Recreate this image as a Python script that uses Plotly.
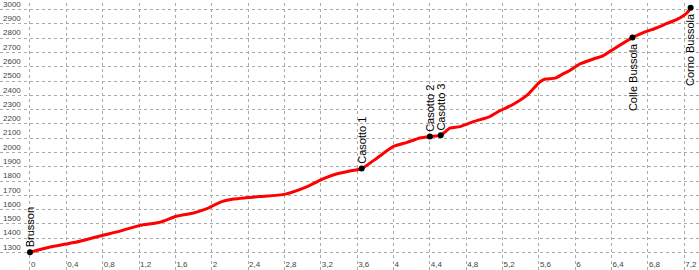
import plotly.graph_objects as go

# Elevation profile (distance in km, elevation in m)
dist_km = [0.00, 0.22, 0.40, 0.55, 0.77, 0.99, 1.21, 1.43, 1.61, 1.80, 1.94, 2.09, 2.24, 2.37,
           2.53, 2.81, 3.05, 3.23, 3.38, 3.52, 3.65, 3.82, 4.00, 4.15, 4.29, 4.40, 4.52, 4.62,
           4.73, 4.88, 5.06, 5.17, 5.31, 5.47, 5.61, 5.67, 5.78, 5.86, 5.94, 6.05, 6.20, 6.31,
           6.42, 6.63, 6.75, 6.90, 7.01, 7.12, 7.23, 7.27]
elev_m = [1302, 1339, 1360, 1379, 1416, 1450, 1490, 1512, 1554, 1577, 1605, 1651, 1674, 1683,
          1692, 1709, 1761, 1817, 1851, 1870, 1888, 1962, 2043, 2071, 2101, 2112, 2120, 2170,
          2181, 2216, 2251, 2292, 2334, 2401, 2493, 2514, 2520, 2548, 2574, 2619, 2654, 2678,
          2723, 2804, 2839, 2873, 2903, 2931, 2977, 3012]

# Waypoints
wp_names = ["Brusson", "Casotto 1", "Casotto 2", "Casotto 3", "Colle Bussola", "Corno Bussola"]
wp_km = [0.00, 3.65, 4.40, 4.52, 6.63, 7.27]
wp_elev = [1302, 1888, 2112, 2120, 2804, 3012]
wp_side = ["above", "above", "above", "above", "below", "below"]

# Axis ticks
x_ticks = [0, 0.4, 0.8, 1.2, 1.6, 2, 2.4, 2.8, 3.2, 3.6, 4, 4.4, 4.8, 5.2, 5.6, 6, 6.4, 6.8, 7.2]
x_tick_text = ["0", "0,4", "0,8", "1,2", "1,6", "2", "2,4", "2,8", "3,2", "3,6", "4", "4,4",
               "4,8", "5,2", "5,6", "6", "6,4", "6,8", "7,2"]
y_ticks = [1300, 1400, 1500, 1600, 1700, 1800, 1900, 2000, 2100, 2200, 2300, 2400, 2500,
           2600, 2700, 2800, 2900, 3000]

fig = go.Figure()
fig.add_trace(go.Scatter(x=dist_km, y=elev_m, mode="lines",
                         line=dict(color="#ff0000", width=3, shape="spline", smoothing=0.6),
                         hoverinfo="skip", showlegend=False))
fig.add_trace(go.Scatter(x=wp_km, y=wp_elev, mode="markers",
                         marker=dict(color="#000000", size=6), cliponaxis=False,
                         hoverinfo="skip", showlegend=False))

for name, xk, ye, side in zip(wp_names, wp_km, wp_elev, wp_side):
    fig.add_annotation(x=xk, y=ye, text=name, showarrow=False, textangle=-90,
                       xanchor="center", yanchor="bottom" if side == "above" else "top",
                       yshift=3 if side == "above" else -3,
                       font=dict(family="Liberation Sans, Arial, sans-serif", size=11, color="#000000"))

fig.update_layout(
    width=699, height=270,
    margin=dict(l=0, r=0, t=0, b=0, pad=0),
    paper_bgcolor="#ffffff", plot_bgcolor="#ffffff",
    font=dict(family="Liberation Sans, Arial, sans-serif", size=8, color="#333333"),
    xaxis=dict(range=[-0.330, 7.362], tickvals=x_ticks, ticktext=x_tick_text,
               showgrid=True, gridcolor="#aaaaaa", griddash="dot", gridwidth=1,
               zeroline=False, showline=False, ticks="",
               ticklabelposition="inside right", ticklabeloverflow="allow",
               ticklabelstandoff=-5, ticklabelshift=1, fixedrange=True),
    yaxis=dict(range=[1178, 3046], tickvals=y_ticks,
               showgrid=True, gridcolor="#aaaaaa", griddash="dot", gridwidth=1,
               zeroline=False, showline=False, ticks="",
               ticklabelposition="inside top", ticklabeloverflow="allow", fixedrange=True),
)

fig.write_html("out.html")
